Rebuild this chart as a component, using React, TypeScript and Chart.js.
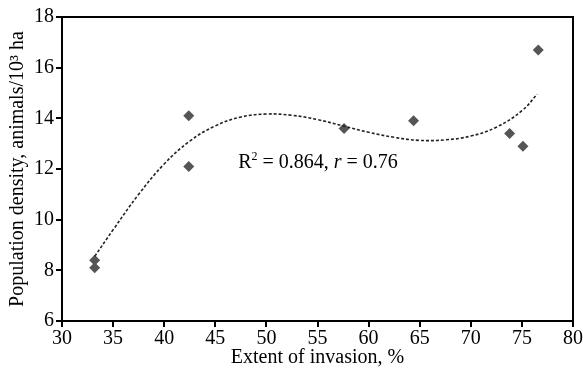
import React, { useEffect, useRef } from "react";
import { Chart, registerables } from "chart.js";

Chart.register(...registerables);

const invasionX = [33.2, 33.2, 42.4, 42.4, 57.6, 64.4, 73.8, 75.1, 76.6];
const densityY = [8.4, 8.1, 14.1, 12.1, 13.6, 13.9, 13.4, 12.9, 16.7];

const trendX = [33.2, 35, 37.5, 40, 42.5, 45, 47.5, 50, 52.5, 55, 57.5, 60, 62.5, 65, 67.5, 70, 72.5, 75, 76.5];
const trendY = [8.55, 9.6, 11.0, 12.2, 13.1, 13.7, 14.05, 14.17, 14.12, 13.95, 13.7, 13.45, 13.25, 13.13, 13.15, 13.3, 13.65, 14.3, 14.95];

const xTitle = "Extent of invasion, %";
const yTitle = "Population density, animals/10\u00B3 ha";
const noteX = 55.05;
const noteY = 12.24;

const FONT = "'Liberation Serif', 'Times New Roman', serif";
const FS = 20;

const frame = {
  id: "frame",
  afterDraw(chart: any) {
    const { ctx, chartArea: a } = chart;
    ctx.save();
    ctx.strokeStyle = "#000";
    ctx.lineWidth = 2;
    ctx.strokeRect(a.left, a.top, a.right - a.left, a.bottom - a.top);
    ctx.restore();
  },
};

const note = {
  id: "note",
  afterDatasetsDraw(chart: any) {
    const { ctx } = chart;
    const cx = chart.scales.x.getPixelForValue(noteX);
    const cy = chart.scales.y.getPixelForValue(noteY);
    const parts = [
      { t: "R", f: `${FS}px ${FONT}`, dy: 0 },
      { t: "2", f: `12px ${FONT}`, dy: -6 },
      { t: " = 0.864, ", f: `${FS}px ${FONT}`, dy: 0 },
      { t: "r", f: `italic ${FS}px ${FONT}`, dy: 0 },
      { t: " = 0.76", f: `${FS}px ${FONT}`, dy: 0 },
    ];
    ctx.save();
    ctx.fillStyle = "#000";
    ctx.textBaseline = "middle";
    let total = 0;
    for (const p of parts) {
      ctx.font = p.f;
      total += ctx.measureText(p.t).width;
    }
    let x = cx - total / 2;
    for (const p of parts) {
      ctx.font = p.f;
      ctx.fillText(p.t, x, cy + p.dy);
      x += ctx.measureText(p.t).width;
    }
    ctx.restore();
  },
};

export default function App() {
  const ref = useRef<HTMLCanvasElement>(null);
  useEffect(() => {
    const chart = new Chart(ref.current as HTMLCanvasElement, {
      type: "scatter",
      data: {
        datasets: [
          {
            type: "line",
            data: trendX.map((x, i) => ({ x, y: trendY[i] })),
            borderColor: "#222",
            borderWidth: 1.6,
            borderDash: [3, 2],
            pointRadius: 0,
            fill: false,
            tension: 0.4,
          },
          {
            data: invasionX.map((x, i) => ({ x, y: densityY[i] })),
            pointStyle: "rectRot",
            pointRadius: 5.5,
            backgroundColor: "#555",
            borderColor: "#555",
            borderWidth: 0,
          },
        ],
      },
      options: {
        animation: false,
        responsive: false,
        layout: { padding: { left: 0, top: 17, right: 10, bottom: 0 } },
        plugins: { legend: { display: false }, tooltip: { enabled: false } },
        scales: {
          x: {
            type: "linear",
            min: 30,
            max: 80,
            ticks: { stepSize: 5, color: "#000", font: { family: FONT, size: FS }, padding: 0, maxRotation: 0 },
            grid: { display: true, drawOnChartArea: false, drawTicks: true, tickLength: 6, color: "#000", lineWidth: 2 },
            border: { display: true, color: "#000", width: 2 },
            title: { display: true, text: xTitle, color: "#000", font: { family: FONT, size: FS }, padding: { top: 0, bottom: 3 } },
            afterFit(scale: any) {
              scale.height = 52;
            },
          },
          y: {
            type: "linear",
            min: 6,
            max: 18,
            ticks: { stepSize: 2, color: "#000", font: { family: FONT, size: FS }, padding: 2 },
            grid: { display: true, drawOnChartArea: false, drawTicks: true, tickLength: 6, color: "#000", lineWidth: 2 },
            border: { display: true, color: "#000", width: 2 },
            title: { display: true, text: yTitle, color: "#000", font: { family: FONT, size: FS }, padding: { top: 6, bottom: 0 } },
            afterFit(scale: any) {
              scale.width = 62;
            },
          },
        },
      },
      plugins: [frame, note],
    } as any);
    return () => chart.destroy();
  }, []);
  return (
    <div style={{ position: "fixed", left: 0, top: 0, width: 583, height: 373, background: "#fff" }}>
      <canvas ref={ref} width={583} height={373} style={{ display: "block" }} />
    </div>
  );
}
